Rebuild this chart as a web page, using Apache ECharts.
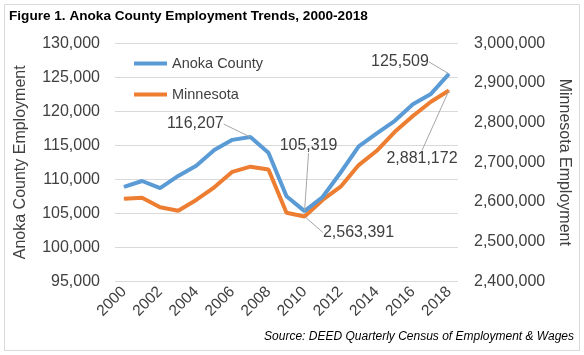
<!DOCTYPE html>
<html>
<head>
<meta charset="utf-8">
<script src="https://cdn.jsdelivr.net/npm/echarts@6/dist/echarts.min.js"></script>
<style>
html,body{margin:0;padding:0;background:#fff;}
#chart{width:584px;height:355px;}
</style>
</head>
<body>
<div id="chart"></div>
<script>
const years = ['2000','2001','2002','2003','2004','2005','2006','2007','2008','2009','2010','2011','2012','2013','2014','2015','2016','2017','2018'];
const anoka = [108900,109750,108700,110500,112000,114300,115800,116207,113900,107500,105319,107400,111000,114850,116750,118600,121050,122550,125509];
const minnesota = [2608000,2610700,2586500,2578000,2605000,2637000,2676000,2689000,2682000,2573000,2563391,2605000,2638500,2693000,2729000,2777000,2816700,2852700,2881172];
const leftTicks = {min:95000, max:130000, interval:5000};
const rightTicks = {min:2400000, max:3000000, interval:100000};
const anokaLabelIdx = [7,10,18];
const mnLabelIdx = [10,18];

const FONT = '"Liberation Sans", Arial, sans-serif';
const fmt = v => v.toLocaleString('en-US');

const offsets = {
  '0-7': [-55,-13], '0-10': [4,-66], '0-18': [-49,-12],
  '1-10': [54,16], '1-18': [-27,68]
};

function buildData(vals, idxs){
  return vals.map((v,i)=> idxs.includes(i) ? {value:v, label:{show:true}} : v);
}

const chart = echarts.init(document.getElementById('chart'));
chart.setOption({
  animation:false,
  textStyle:{fontFamily:FONT},
  graphic:[
    {type:'rect', shape:{x:4.5,y:4.5,width:575,height:346}, style:{fill:'none',stroke:'#d9d9d9',lineWidth:1}, silent:true, z:-1},
    {type:'text', left:9, top:9, style:{text:'Figure 1. Anoka County Employment Trends, 2000-2018', font:'bold 13.6px '+FONT, fill:'#000'}},
    {type:'text', right:10, top:331, style:{text:'Source: DEED Quarterly Census of Employment & Wages', font:'italic 12px '+FONT, fill:'#000'}}
  ],
  legend:{
    orient:'vertical', left:129, top:51, itemWidth:33, itemHeight:4, itemGap:16,
    icon:'rect',
    textStyle:{fontSize:14.5, color:'#404040', fontFamily:FONT},
    data:['Anoka County','Minnesota']
  },
  grid:{left:115, right:126, top:43.3, bottom:73.7, containLabel:false},
  xAxis:{
    type:'category', data:years, boundaryGap:true,
    axisLine:{show:false}, axisTick:{show:false},
    axisLabel:{rotate:45, fontSize:15.5, color:'#404040', margin:8, interval:1, fontFamily:FONT}
  },
  yAxis:[
    {type:'value', min:leftTicks.min, max:leftTicks.max, interval:leftTicks.interval, position:'left',
     name:'Anoka County Employment', nameLocation:'middle', nameGap:86, nameRotate:90,
     nameTextStyle:{fontSize:16, color:'#404040', fontFamily:FONT},
     axisLine:{show:false}, axisTick:{show:false},
     axisLabel:{fontSize:16, color:'#404040', margin:15, formatter:fmt, fontFamily:FONT},
     splitLine:{lineStyle:{color:'#d9d9d9', width:1}}},
    {type:'value', min:rightTicks.min, max:rightTicks.max, interval:rightTicks.interval, position:'right',
     name:'Minnesota Employment', nameLocation:'middle', nameGap:93, nameRotate:-90,
     nameTextStyle:{fontSize:16, color:'#404040', fontFamily:FONT},
     axisLine:{show:false}, axisTick:{show:false},
     axisLabel:{fontSize:16, color:'#404040', margin:16, formatter:fmt, fontFamily:FONT},
     splitLine:{show:false}}
  ],
  series:[
    {name:'Anoka County', type:'line', yAxisIndex:0, data:buildData(anoka, anokaLabelIdx),
     symbol:'circle', symbolSize:1, showSymbol:true,
     lineStyle:{width:4, color:'#5B9BD5'}, itemStyle:{color:'#5B9BD5'},
     label:{show:false, position:'inside', formatter:p=>fmt(p.value), fontSize:16, color:'#404040', fontFamily:FONT},
     labelLine:{show:true, lineStyle:{color:'#a6a6a6', width:1}},
     labelLayout:p=>{const o=offsets['0-'+p.dataIndex]||[0,0]; return {dx:o[0], dy:o[1]};},
     z:3},
    {name:'Minnesota', type:'line', yAxisIndex:1, data:buildData(minnesota, mnLabelIdx),
     symbol:'circle', symbolSize:1, showSymbol:true,
     lineStyle:{width:4, color:'#ED7D31'}, itemStyle:{color:'#ED7D31'},
     label:{show:false, position:'inside', formatter:p=>fmt(p.value), fontSize:16, color:'#404040', fontFamily:FONT},
     labelLine:{show:true, lineStyle:{color:'#a6a6a6', width:1}},
     labelLayout:p=>{const o=offsets['1-'+p.dataIndex]||[0,0]; return {dx:o[0], dy:o[1]};},
     z:2}
  ]
});
</script>
</body>
</html>
